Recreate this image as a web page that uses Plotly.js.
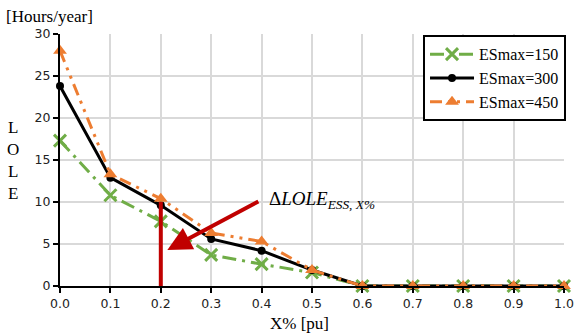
<!DOCTYPE html>
<html><head><meta charset="utf-8">
<script src="https://cdn.plot.ly/plotly-3.0.1.min.js"></script>
<style>body{margin:0;background:#fff}#c{width:576px;height:333px}</style>
</head><body><div id="c"></div>
<script>
const xVals = [0.0,0.1,0.2,0.3,0.4,0.5,0.6,0.7,0.8,0.9,1.0];
const es150 = [17.3,10.8,7.7,3.7,2.6,1.6,0,0,0,0,0];
const es300 = [23.8,12.9,9.6,5.6,4.2,1.9,0,0,0,0,0];
const es450 = [28.0,13.3,10.4,6.3,5.3,1.9,0,0,0,0,0];
const names = ['ESmax=150','ESmax=300','ESmax=450'];
const xTicks = [0,0.1,0.2,0.3,0.4,0.5,0.6,0.7,0.8,0.9,1.0];
const yTicks = [0,5,10,15,20,25,30];
const markX = 0.2, markY = 10;

const serif = 'Liberation Serif';
const traces = [
 {x:xVals,y:es150,name:names[0],mode:'lines+markers',line:{color:'#70ad47',width:3,dash:'14px,6px,3px,6px'},marker:{symbol:'x-thin',size:12,line:{color:'#70ad47',width:3},color:'#70ad47'},cliponaxis:false},
 {x:xVals,y:es300,name:names[1],mode:'lines+markers',line:{color:'#000000',width:3},marker:{symbol:'circle',size:8,color:'#000000'},cliponaxis:false},
 {x:xVals,y:es450,name:names[2],mode:'lines+markers',line:{color:'#ed7d31',width:3,dash:'12px,6px,3px,6px,3px,6px'},marker:{symbol:'triangle-up',size:12,color:'#ed7d31'},cliponaxis:false}
];
const layout = {
 width:576,height:333,
 margin:{l:60,r:10,t:34,b:47},
 paper_bgcolor:'#fff',plot_bgcolor:'#fff',
 showlegend:true,
 legend:{x:1.004,xanchor:'right',y:0.995,yanchor:'top',bordercolor:'#000',borderwidth:2,bgcolor:'#fff',font:{family:serif,size:16,color:'#000'},tracegroupgap:0,itemwidth:44},
 xaxis:{range:[0,1],tickvals:xTicks,tickformat:'.1f',showgrid:true,gridcolor:'#d9d9d9',gridwidth:2,zeroline:false,showline:true,linecolor:'#000',linewidth:2,ticks:'outside',tickcolor:'#000',ticklen:5,tickwidth:2,tickfont:{family:'DejaVu Sans',size:12.5,color:'#222'}},
 yaxis:{range:[0,30],tickvals:yTicks,showgrid:true,gridcolor:'#d9d9d9',gridwidth:2,zeroline:false,showline:true,linecolor:'#000',linewidth:2,ticks:'outside',tickcolor:'#000',ticklen:5,tickwidth:2,tickfont:{family:'DejaVu Sans',size:12.5,color:'#222'}},
 shapes:[{type:'line',xref:'x',yref:'y',x0:markX,x1:markX,y0:0,y1:markY,line:{color:'#c00000',width:4}}],
 annotations:[
  {xref:'x',yref:'y',x:0.213,y:4.3,ax:94,ay:-50,showarrow:true,arrowhead:2,arrowsize:1.2,arrowwidth:4,arrowcolor:'#c00000',text:' '},
  {xref:'paper',yref:'paper',x:(268-60)/506,y:(286-200)/252,xanchor:'left',yanchor:'middle',showarrow:false,text:'Δ<i>LOLE</i><sub><i>ESS, X%</i></sub>',font:{family:serif,size:19,color:'#000'}},
  {xref:'paper',yref:'paper',x:-0.111,y:(286-16)/252,xanchor:'left',yanchor:'middle',showarrow:false,text:'[Hours/year]',font:{family:serif,size:17,color:'#000'}},
  {xref:'paper',yref:'paper',x:(300-60)/506,y:(286-323)/252,xanchor:'center',yanchor:'middle',showarrow:false,text:'X% [pu]',font:{family:serif,size:17,color:'#000'}},
  {xref:'paper',yref:'paper',x:(13-60)/506,y:(286-160)/252,xanchor:'center',yanchor:'middle',showarrow:false,text:'L<br>O<br>L<br>E',font:{family:serif,size:17,color:'#000'}}
 ]
};
Plotly.newPlot('c',traces,layout,{displayModeBar:false,staticPlot:true});
</script></body></html>
